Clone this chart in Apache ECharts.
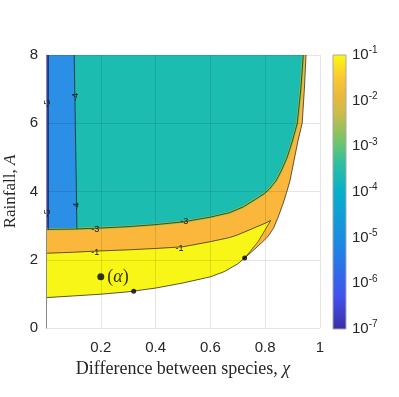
<!DOCTYPE html>
<html><head><meta charset="utf-8">
<script src="https://cdn.jsdelivr.net/npm/echarts@6/dist/echarts.min.js"></script>
<style>html,body{margin:0;padding:0;background:#fff}#c{width:399px;height:397px}</style>
</head><body><div id="c"></div>
<script>
// Contour boundaries, as [chi, A] pairs
const lowerEdge = [[0,0.89],[0.1,0.94],[0.2,0.99],[0.3,1.06],[0.4,1.17],[0.5,1.32],[0.6,1.5],[0.65,1.65],[0.7,1.88],[0.725,2.05]];
const outerEdge = [[0.725,2.05],[0.76,2.3],[0.79,2.52],[0.81,2.68],[0.83,2.92],[0.845,3.2],[0.866,3.66],[0.878,3.97],[0.89,4.3],[0.905,4.9],[0.92,5.5],[0.935,6.0],[0.943,7.0],[0.949,8]];
const yellowTipEdge = [[0.725,2.05],[0.774,2.53],[0.82,3.15]];
const minus1Line = [[0,2.19],[0.1,2.22],[0.2,2.26],[0.3,2.29],[0.4,2.33],[0.5,2.38],[0.6,2.53],[0.67,2.65],[0.7,2.73],[0.8,3.07],[0.82,3.15]];
const minus3Line = [[0,2.89],[0.1,2.9],[0.2,2.93],[0.3,2.97],[0.4,3.03],[0.5,3.11],[0.6,3.25],[0.67,3.38],[0.72,3.55],[0.77,3.8],[0.795,3.93],[0.815,4.07],[0.84,4.32],[0.86,4.63],[0.88,5.0],[0.9,5.5],[0.917,6.0],[0.93,7.0],[0.939,8]];
const minus4Line = [[0.113,2.9],[0.111,4],[0.107,6],[0.103,8]];
const minus5Line = [[0.009,2.89],[0.009,8]];
// contour labels
const labelPos = [[0.18,2.21],[0.487,2.34],[0.18,2.89],[0.505,3.12],[0.106,6.77],[0.111,3.56],[0.004,6.57],[0.004,3.36]];
const labelText = ['-1','-1','-3','-3','-4','-4','-5','-5'];
const labelRot = [0,0,0,0,90,90,90,90];
// markers
const alphaPoint = [[0.2,1.5]];
const edgeMarks = [[0.32,1.08],[0.725,2.05]];
// colours
const regionColors = {orange:'#FAB73C', yellow:'#F8F617', teal:'#1CBDB0', blue:'#2B8FE6', dark:'#3B3DB6'};
const parulaStops = [[0,'#3b2ea3'],[0.12,'#4152ee'],[0.3,'#1c86e6'],[0.5,'#06b0c9'],[0.6,'#2cbea5'],[0.68,'#70c46c'],[0.78,'#c6bd4d'],[0.84,'#e6b83e'],[0.92,'#fbc930'],[1,'#f9fb0e']];
// axes
const xTicks = [0,0.2,0.4,0.6,0.8,1];
const yTicks = [0,2,4,6,8];
const cbExponents = [-7,-6,-5,-4,-3,-2,-1];

const regions = [
  {c: regionColors.orange, pts: lowerEdge.concat(outerEdge.slice(1), [[0,8]])},
  {c: regionColors.yellow, pts: lowerEdge.concat(yellowTipEdge.slice(1), minus1Line.slice().reverse().slice(1))},
  {c: regionColors.teal, pts: minus3Line.concat([[0,8]])},
  {c: regionColors.blue, pts: [[0,2.89]].concat(minus4Line, [[0,8]])},
  {c: regionColors.dark, pts: [[0,2.89]].concat(minus5Line, [[0,8]])}
];

const chart = echarts.init(document.getElementById('c'), null, {renderer:'canvas'});
const tickFont = {fontFamily:'Liberation Sans, Arial, sans-serif', fontSize:15, color:'#262626'};
const lineSer = (data, color, w) => ({type:'line', data, showSymbol:false, symbol:'none', silent:true,
  lineStyle:{color, width:w}, z:3, animation:false});

chart.setOption({
  animation:false,
  grid:[{left:46, right:79, top:55, bottom:69, outerBoundsMode:'none', containLabel:false},
        {left:333, width:13, top:55, bottom:68, outerBoundsMode:'none', containLabel:false}],
  xAxis:[{type:'value', min:0, max:1, interval:0.2, z:5,
    axisLine:{show:false}, axisTick:{show:false},
    axisLabel:Object.assign({margin:12, showMinLabel:false, formatter:v=>String(+v.toFixed(1))}, tickFont),
    splitLine:{show:true, lineStyle:{color:'rgba(0,0,0,0.1)', width:1}},
    name:'Difference between species, {i|χ}', nameLocation:'middle', nameGap:31,
    nameTextStyle:{fontFamily:'Liberation Serif, serif', fontSize:18, color:'#262626',
      rich:{i:{fontFamily:'Liberation Serif, serif', fontStyle:'italic', fontSize:18, color:'#262626'}}}},
   {type:'value', gridIndex:1, min:0, max:1, show:false}],
  yAxis:[{type:'value', min:0, max:8, interval:2, z:5,
    axisLine:{show:true, lineStyle:{color:'#8a8a8a', width:1}}, axisTick:{show:false},
    axisLabel:Object.assign({margin:8}, tickFont),
    splitLine:{show:true, lineStyle:{color:'rgba(0,0,0,0.1)', width:1}},
    name:'Rainfall, {i|A}', nameLocation:'middle', nameGap:21,
    nameTextStyle:{fontFamily:'Liberation Serif, serif', fontSize:17, color:'#262626',
      rich:{i:{fontFamily:'Liberation Serif, serif', fontStyle:'italic', fontSize:17, color:'#262626'}}}},
   {type:'log', gridIndex:1, min:1e-7, max:1e-1, logBase:10, position:'right',
    axisLine:{show:false}, axisTick:{show:false}, splitLine:{show:false},
    axisLabel:{margin:6, formatter:v=>'10{s|' + Math.round(Math.log10(v)) + '}',
      fontFamily:'Liberation Sans, Arial, sans-serif', fontSize:15, color:'#262626',
      rich:{s:{fontSize:10, fontFamily:'Liberation Sans, Arial, sans-serif', color:'#262626', verticalAlign:'bottom', padding:[0,0,9,0]}}}}],
  series:[
    {type:'custom', xAxisIndex:0, yAxisIndex:0, silent:true, z:1,
     data: regions.map((r,i)=>[i]),
     renderItem:(params, api)=>{
       const r = regions[params.dataIndex];
       return {type:'polygon', shape:{points:r.pts.map(p=>api.coord(p))}, style:{fill:r.c}};
     }},
    lineSer(minus3Line, '#94c24a', 2.4),
    lineSer(lowerEdge.concat(outerEdge.slice(1)), '#1a1a1a', 0.7),
    lineSer(yellowTipEdge, '#1a1a1a', 0.6),
    lineSer(minus1Line, '#1a1a1a', 0.7),
    lineSer(minus3Line, '#1a1a1a', 0.7),
    lineSer(minus4Line, '#1a1a1a', 0.7),
    lineSer(minus5Line, '#1a1a3a', 0.6),
    {type:'custom', silent:true, z:4, data: labelPos.map((p,i)=>[p[0],p[1],i]),
     renderItem:(params, api)=>{
       const i = params.dataIndex; const pt = api.coord([api.value(0), api.value(1)]);
       return {type:'text', x:pt[0], y:pt[1], rotation: labelRot[i]*Math.PI/180,
         style:{text:labelText[i], fill:'#111', fontSize:9, fontFamily:'Liberation Sans, Arial, sans-serif', align:'center', verticalAlign:'middle'}};
     }},
    {type:'scatter', data:edgeMarks, symbol:'circle', symbolSize:5, itemStyle:{color:'#000'}, silent:true, z:4},
    {type:'scatter', data:alphaPoint, symbol:'circle', symbolSize:7, itemStyle:{color:'#000'}, silent:true, z:4,
     label:{show:true, position:'right', distance:3, formatter:'{p|(}{a|α}{p|)}',
       rich:{p:{fontFamily:'Liberation Serif, serif', fontSize:18, color:'#000'},
             a:{fontFamily:'Liberation Serif, serif', fontStyle:'italic', fontSize:18, color:'#000'}}}},
    {type:'custom', xAxisIndex:1, yAxisIndex:1, silent:true, data:[[0,1e-7]],
     renderItem:(params, api)=>{
       const a = api.coord([0, 1e-1]); const b = api.coord([1, 1e-7]);
       const stops = parulaStops.map(s=>({offset:1 - s[0], color:s[1]})).reverse();
       return {type:'rect', shape:{x:a[0], y:a[1], width:b[0]-a[0], height:b[1]-a[1]},
         style:{fill:new echarts.graphic.LinearGradient(0,0,0,1, stops), stroke:'#a8a8a8', lineWidth:1}};
     }}
  ]
});
</script></body></html>
